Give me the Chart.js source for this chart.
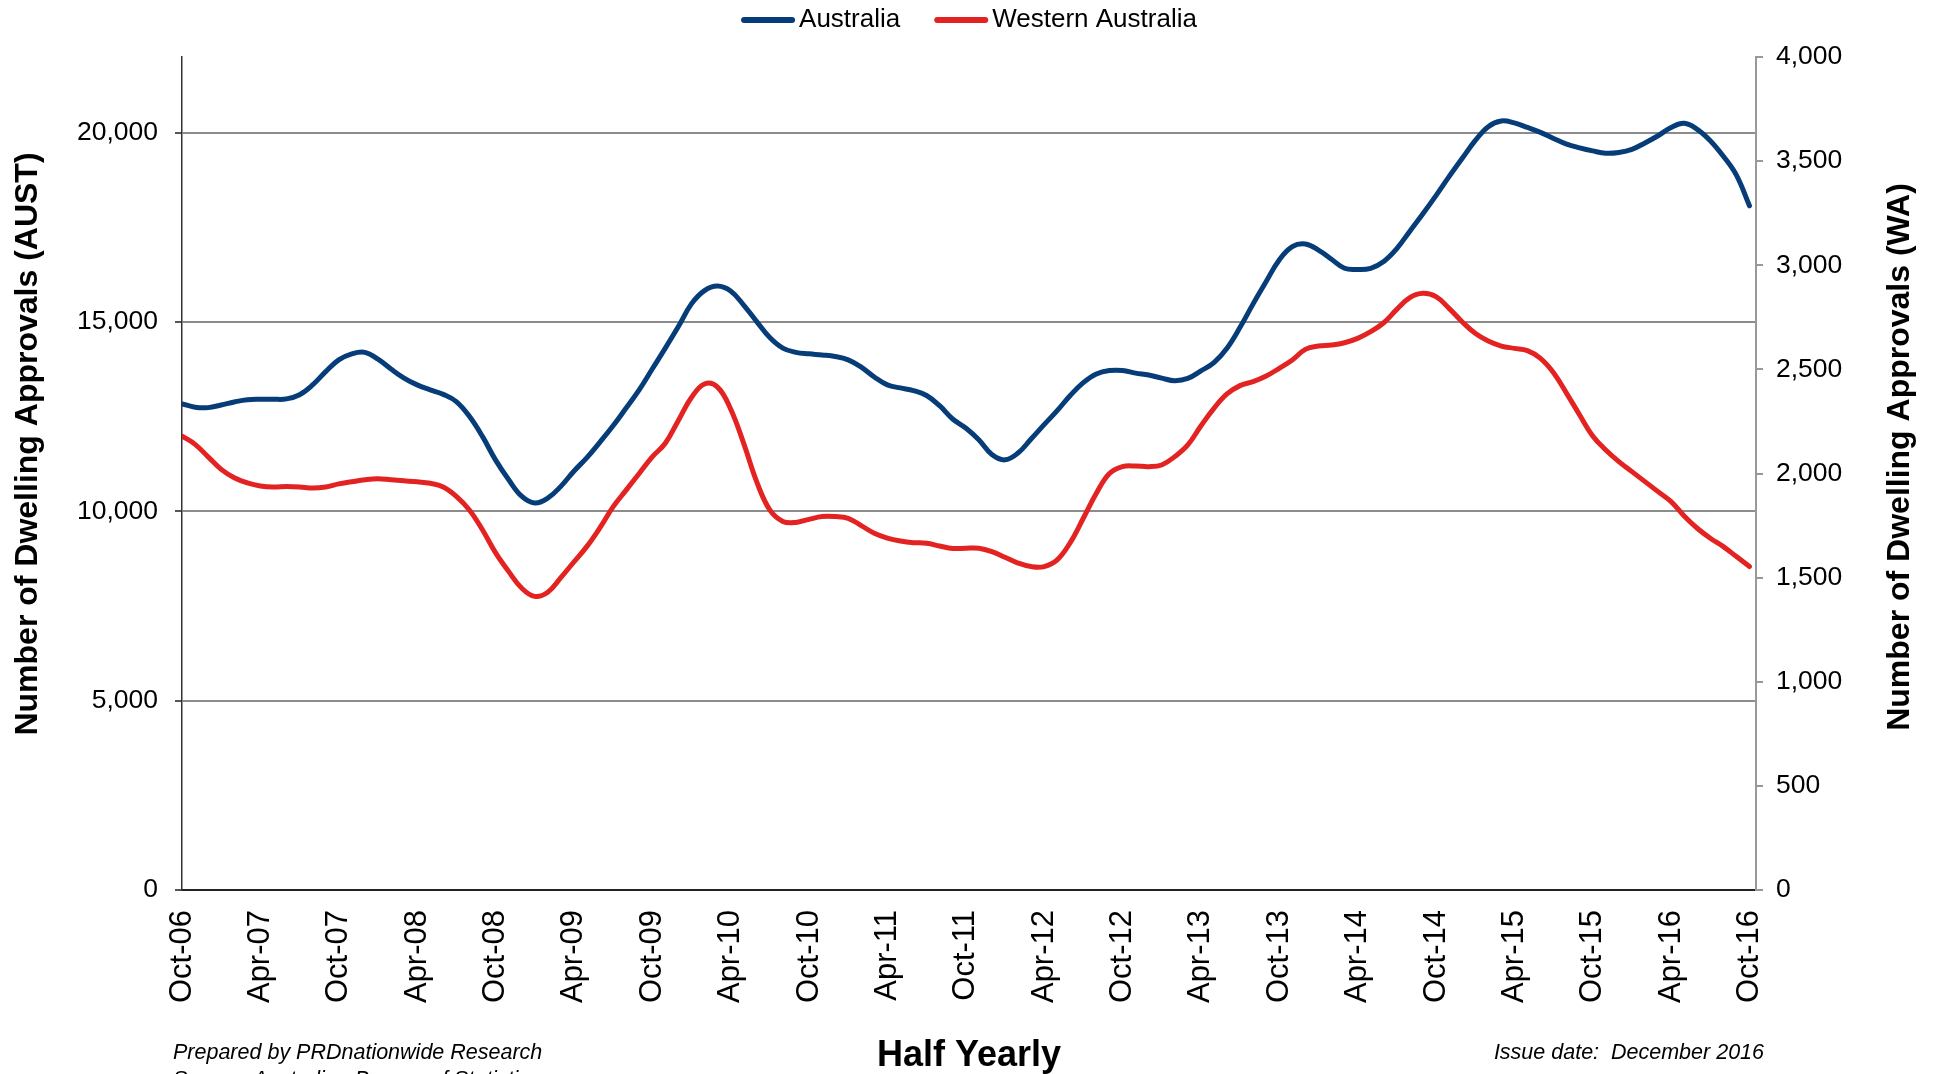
<!DOCTYPE html>
<html>
<head>
<meta charset="utf-8">
<title>Dwelling Approvals</title>
<script src="https://cdn.jsdelivr.net/npm/chart.js@4.4.1/dist/chart.umd.min.js"></script>
<style>
  html, body { margin: 0; padding: 0; background: #ffffff; }
  #contenedor { width: 1937px; height: 1074px; }
</style>
</head>
<body>
<div id="contenedor"><canvas id="grafico" width="1937" height="1074"></canvas></div>
<script>
// Etiquetas del eje X (cada 6 meses)
const etiquetasSemestre = [
  "Oct-06", "Apr-07", "Oct-07", "Apr-08", "Oct-08", "Apr-09", "Oct-09",
  "Apr-10", "Oct-10", "Apr-11", "Oct-11", "Apr-12", "Oct-12", "Apr-13",
  "Oct-13", "Apr-14", "Oct-14", "Apr-15", "Oct-15", "Apr-16", "Oct-16"
];

// Marcas de los ejes Y
const marcasAust = [0, 5000, 10000, 15000, 20000];
const marcasWA = [0, 500, 1000, 1500, 2000, 2500, 3000, 3500, 4000];

// Serie mensual Australia (eje izquierdo), Oct-06 .. Oct-16
const australia = [
  12840, 12750, 12740, 12810, 12890, 12950, 12960, 12960, 12970, 13080,
  13340, 13690, 14000, 14160, 14200, 14020, 13760, 13520, 13340, 13210,
  13090, 12900, 12510, 11980, 11360, 10840, 10400, 10220, 10350, 10660,
  11060, 11420, 11830, 12260, 12730, 13210, 13760, 14310, 14880, 15480,
  15830, 15950, 15820, 15450, 15010, 14590, 14310, 14200, 14160, 14130,
  14090, 14000, 13810, 13550, 13340, 13260, 13190, 13060, 12790, 12440,
  12200, 11890, 11500, 11360, 11540, 11910, 12290, 12660, 13060, 13400,
  13630, 13720, 13720, 13650, 13600, 13520, 13450, 13510, 13710, 13930,
  14310, 14860, 15480, 16070, 16640, 16990, 17060, 16900, 16660, 16420,
  16390, 16420, 16600, 16940, 17400, 17860, 18340, 18840, 19320, 19790,
  20160, 20310, 20260, 20140, 20010, 19850, 19700, 19600, 19520, 19460,
  19480, 19560, 19730, 19920, 20140, 20250, 20090, 19790, 19380, 18880,
  18070
];

// Serie mensual Western Australia (eje derecho)
const westernAustralia = [
  2180, 2140, 2080, 2020, 1980, 1955, 1940, 1935, 1937, 1935,
  1930, 1935, 1950, 1960, 1970, 1975, 1970, 1965, 1960, 1953,
  1935, 1890, 1825, 1730, 1620, 1530, 1450, 1410, 1430, 1500,
  1575, 1650, 1740, 1840, 1920, 2000, 2080, 2145, 2255, 2365,
  2430, 2415, 2310, 2145, 1960, 1825, 1770, 1765, 1780, 1793,
  1793, 1785, 1750, 1713, 1690, 1676, 1668, 1665, 1652, 1640,
  1641, 1641, 1625, 1598, 1570, 1553, 1553, 1585, 1668, 1785,
  1905, 2000, 2033, 2036, 2033, 2041, 2081, 2137, 2228, 2313,
  2382, 2422, 2441, 2468, 2505, 2545, 2596, 2612, 2617, 2628,
  2649, 2681, 2724, 2788, 2844, 2865, 2849, 2793, 2729, 2673,
  2636, 2612, 2601, 2590, 2553, 2484, 2385, 2281, 2180, 2113,
  2057, 2009, 1961, 1913, 1865, 1796, 1737, 1689, 1649, 1601,
  1553
];

const nombresSeries = ["Australia", "Western Australia"];
const coloresSeries = ["#063d78", "#e32322"];

// Índice de mes (0 = Oct-06)
const meses = australia.map((_, i) => i);

const fuente = "'Liberation Sans', Arial, sans-serif";
Chart.defaults.font.family = fuente;
Chart.defaults.color = "#000";

const formatoMiles = (v) => Number(v).toLocaleString("en-US");

// Plugin para la leyenda, los títulos de ejes Y y las notas al pie
const notasPlugin = {
  id: "notas",
  afterDraw(chart) {
    const ctx = chart.ctx;
    const area = chart.chartArea;
    ctx.save();

    // Leyenda
    ctx.font = "26px " + fuente;
    ctx.textBaseline = "middle";
    const anchoMuestra = 54;
    const separacion = 4;
    const entreItems = 34;
    const anchos = nombresSeries.map((n) => ctx.measureText(n).width);
    let total = 0;
    anchos.forEach((w, i) => {
      total += anchoMuestra + separacion + w + (i > 0 ? entreItems : 0);
    });
    let x = (area.left + area.right) / 2 - total / 2;
    const yLeyenda = 20;
    nombresSeries.forEach((n, i) => {
      ctx.strokeStyle = coloresSeries[i];
      ctx.lineWidth = 6;
      ctx.lineCap = "round";
      ctx.beginPath();
      ctx.moveTo(x + 3, yLeyenda);
      ctx.lineTo(x + anchoMuestra - 3, yLeyenda);
      ctx.stroke();
      ctx.fillStyle = "#000";
      ctx.textAlign = "left";
      ctx.fillText(n, x + anchoMuestra + separacion, yLeyenda);
      x += anchoMuestra + separacion + anchos[i] + entreItems;
    });

    // Títulos de los ejes verticales (ambos leídos de abajo hacia arriba)
    ctx.font = "bold 32px " + fuente;
    ctx.textAlign = "center";
    ctx.textBaseline = "middle";
    [
      ["Number of Dwelling Approvals (AUST)", 28, 444],
      ["Number of Dwelling Approvals (WA)", 1900, 457],
    ].forEach(([texto, tx, ty]) => {
      ctx.save();
      ctx.translate(tx, ty);
      ctx.rotate(-Math.PI / 2);
      ctx.fillText(texto, 0, 0);
      ctx.restore();
    });

    // Notas al pie
    ctx.font = "italic 21.5px " + fuente;
    ctx.textAlign = "left";
    ctx.fillText("Prepared by PRDnationwide Research", 173, 1053);
    ctx.fillText("Source: Australian Bureau of Statistics", 173, 1080);
    ctx.textAlign = "right";
    ctx.fillText("Issue date:  December 2016", 1764, 1053);

    ctx.restore();
  },
};

const ctx = document.getElementById("grafico").getContext("2d");
new Chart(ctx, {
  type: "line",
  data: {
    datasets: [
      {
        label: nombresSeries[0],
        data: meses.map((m, i) => ({ x: m, y: australia[i] })),
        borderColor: coloresSeries[0],
        backgroundColor: coloresSeries[0],
        borderWidth: 5,
        pointRadius: 0,
        tension: 0.4,
        borderCapStyle: "round",
        yAxisID: "yAust",
      },
      {
        label: nombresSeries[1],
        data: meses.map((m, i) => ({ x: m, y: westernAustralia[i] })),
        borderColor: coloresSeries[1],
        backgroundColor: coloresSeries[1],
        borderWidth: 5,
        pointRadius: 0,
        tension: 0.4,
        borderCapStyle: "round",
        yAxisID: "yWA",
      },
    ],
  },
  options: {
    responsive: false,
    animation: false,
    layout: { padding: { top: 57, left: 0, right: 0, bottom: 0 } },
    plugins: {
      legend: { display: false },
      tooltip: { enabled: false },
    },
    scales: {
      x: {
        type: "linear",
        min: 0,
        max: 120.5,
        afterBuildTicks: (scale) => {
          scale.ticks = etiquetasSemestre.map((_, i) => ({ value: i * 6 }));
        },
        afterFit: (scale) => {
          scale.height = 184;
        },
        ticks: {
          autoSkip: false,
          minRotation: 90,
          maxRotation: 90,
          padding: 20,
          font: { size: 31 },
          callback: (v) => etiquetasSemestre[Math.round(v / 6)],
        },
        grid: { display: false, drawTicks: false },
        border: { display: true, color: "#222", width: 2 },
        title: {
          display: true,
          text: "Half Yearly",
          font: { size: 36, weight: "bold", lineHeight: 1.0 },
          padding: { top: 0, bottom: 0 },
        },
      },
      yAust: {
        type: "linear",
        position: "left",
        min: 0,
        max: 22000,
        afterBuildTicks: (scale) => {
          scale.ticks = marcasAust.map((v) => ({ value: v }));
        },
        afterFit: (scale) => {
          scale.width = 182;
        },
        ticks: {
          padding: 17,
          font: { size: 26.5 },
          callback: formatoMiles,
        },
        grid: {
          color: "#8c8c8c",
          lineWidth: 2,
          tickLength: 7,
          tickColor: "#555",
        },
        border: { display: true, color: "#333", width: 1.5 },
      },
      yWA: {
        type: "linear",
        position: "right",
        min: 0,
        max: 4000,
        afterBuildTicks: (scale) => {
          scale.ticks = marcasWA.map((v) => ({ value: v }));
        },
        afterFit: (scale) => {
          scale.width = 181;
        },
        ticks: {
          padding: 13,
          font: { size: 26.5 },
          callback: formatoMiles,
        },
        grid: {
          drawOnChartArea: false,
          tickLength: 7,
          tickColor: "#999",
          lineWidth: 2,
        },
        border: { display: true, color: "#999", width: 2 },
      },
    },
  },
  plugins: [notasPlugin],
});
</script>
</body>
</html>
